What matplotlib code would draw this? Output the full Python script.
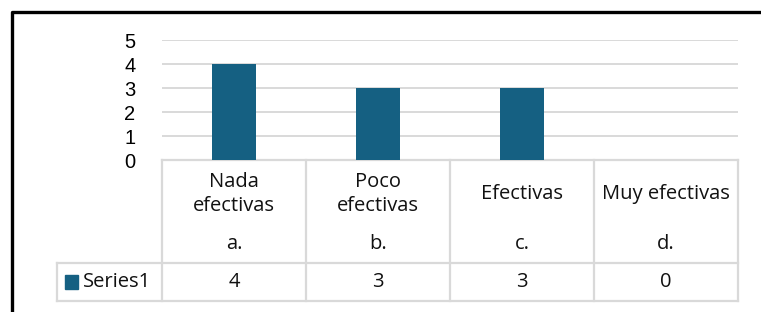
import matplotlib
matplotlib.use("Agg")
import matplotlib.pyplot as plt
import matplotlib.transforms as mtransforms

categories = ["Nada\nefectivas", "Poco\nefectivas", "Efectivas", "Muy efectivas"]
letters = ["a.", "b.", "c.", "d."]
series_name = "Series1"
values = [4, 3, 3, 0]
yticks = [0, 1, 2, 3, 4, 5]

bar_color = "#156082"
grid_color = "#d9d9d9"
W, H = 761, 312

fig = plt.figure(figsize=(W / 100, H / 100), dpi=100)

# overlay in pixel coords for frame and table lines
ov = fig.add_axes([0, 0, 1, 1])
ov.set_xlim(0, W)
ov.set_ylim(H, 0)
ov.axis("off")

# plot area
x0, x1, y_top, y_bot = 162, 738, 40, 160
ax = fig.add_axes([x0 / W, (H - y_bot) / H, (x1 - x0) / W, (y_bot - y_top) / H])
xs = list(range(len(values)))
ax.bar(xs, values, width=0.31, color=bar_color, zorder=3)
ax.set_xlim(-0.5, len(values) - 0.5)
ax.set_ylim(0, 5)
ax.set_yticks(yticks)
ax.set_yticklabels([str(t) for t in yticks], fontsize=14.5, family="Liberation Sans")
ax.tick_params(axis="y", length=0, pad=19)
ax.set_xticks([])
ax.grid(axis="y", color=grid_color, linewidth=1.4, zorder=0)
for s in ["top", "right", "left"]:
    ax.spines[s].set_visible(False)
ax.spines["bottom"].set_color(grid_color)
ax.spines["bottom"].set_linewidth(1.6)

# data table below, x in data coords, y in pixels
tr = mtransforms.blended_transform_factory(ax.transData, ov.transData)
lkw = dict(color=grid_color, linewidth=1.6, transform=tr, clip_on=False)
for b in [i - 0.5 for i in range(len(values) + 1)]:
    ax.plot([b, b], [160, 301], **lkw)
xl = -0.5 - (162 - 57) / 144
ax.plot([xl, xl], [263, 301], **lkw)
for yy in [263, 301]:
    ax.plot([xl, len(values) - 0.5], [yy, yy], **lkw)

tkw = dict(transform=tr, ha="center", va="center", fontsize=14.5,
           family="Open Sans", color="#111111", linespacing=1.3)
for i, (c, l, v) in enumerate(zip(categories, letters, values)):
    ax.text(i, 194, c, **tkw)
    ax.text(i, 244, l, **tkw)
    ax.text(i, 282, str(v), **tkw)

ov.add_patch(plt.Rectangle((65, 275), 13, 14, color=bar_color))
ov.text(83, 282, series_name, ha="left", va="center", fontsize=14.5,
        family="Open Sans", color="#111111")

# outer black frame (cut at right / bottom)
ov.plot([11.5, 11.5, W + 5], [H + 5, 11.5, 11.5], color="black", linewidth=2.4)

fig.savefig("out.png", dpi=100)
